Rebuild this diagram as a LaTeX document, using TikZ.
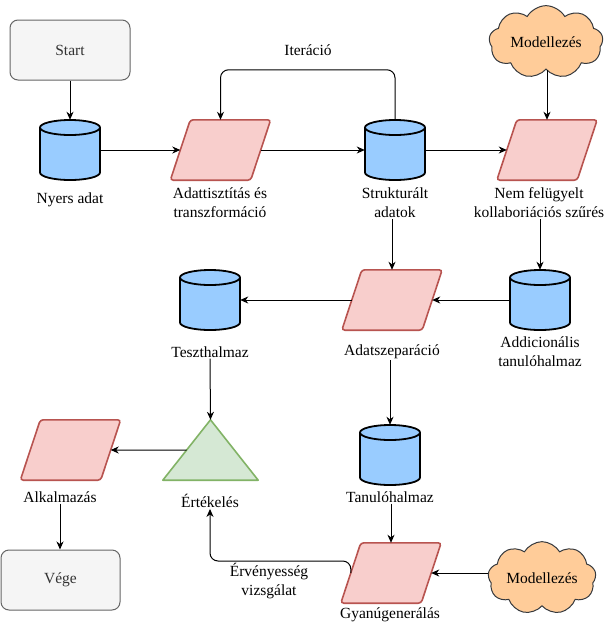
\documentclass[tikz,border=0pt]{standalone}
\usepackage{fontspec}
\setmainfont{Liberation Serif}
\usetikzlibrary{shapes.geometric,shapes.symbols,arrows.meta,calc}
\definecolor{greyfill}{HTML}{F5F5F5}
\definecolor{greyline}{HTML}{666666}
\definecolor{greytext}{HTML}{333333}
\definecolor{cylfill}{HTML}{99CCFF}
\definecolor{parafill}{HTML}{F8CECC}
\definecolor{paraline}{HTML}{B85450}
\definecolor{trifill}{HTML}{D5E8D4}
\definecolor{triline}{HTML}{82B366}
\definecolor{cloudfill}{HTML}{FFCC99}
\definecolor{cloudline}{HTML}{36393D}
\newcommand{\drawcyl}[1]{%
  \filldraw[cylst] ($(#1.center)+(-30pt,22.5pt)$) -- ++(0pt,-45pt)
    arc[start angle=180,end angle=360,x radius=30pt,y radius=7.5pt] -- ++(0pt,45pt)
    arc[start angle=0,end angle=180,x radius=30pt,y radius=7.5pt] -- cycle;
  \draw[cylst] ($(#1.center)+(-30pt,22.5pt)$)
    arc[start angle=180,end angle=360,x radius=30pt,y radius=7.5pt];}
\newcommand{\drawpara}[1]{%
  \filldraw[parast] (#1.south west) -- ($(#1.north west)+(20pt,0pt)$) -- (#1.north east)
    -- ($(#1.south east)+(-20pt,0pt)$) -- cycle;
  \coordinate (#1-l) at ($(#1.west)+(10pt,0pt)$);
  \coordinate (#1-r) at ($(#1.east)+(-10pt,0pt)$);}
\begin{document}
\begin{tikzpicture}[x=1pt,y=-1pt, font=\fontsize{15.5}{19}\selectfont,
  termbox/.style={draw=greyline, fill=greyfill, text=greytext, rounded corners=8pt,
    minimum width=120pt, minimum height=60pt, line width=1pt, inner sep=0},
  cylnode/.style={minimum width=60pt, minimum height=60pt, inner sep=0},
  cylst/.style={draw=black, fill=cylfill, line width=1.8pt, line join=round},
  paranode/.style={minimum width=100pt, minimum height=60pt, inner sep=0},
  parast/.style={draw=paraline, fill=parafill, line width=1.6pt, rounded corners=3pt},
  cloudnode/.style={cloud, cloud puffs=9, cloud puff arc=120, draw=cloudline,
    fill=cloudfill, line width=1pt, inner sep=0, aspect=1.8},
  tri/.style={draw=triline, fill=trifill, line width=1.6pt, line join=round},
  lbl/.style={align=center, inner sep=1pt},
  arr/.style={draw=black, line width=1pt, -{Stealth[length=8pt,width=7pt,inset=2.5pt]}}
]
\useasboundingbox (0,0) rectangle (614,625);

% nodes
\node[termbox] (start) at (70,50) {Start};
\node[cylnode] (nyers) at (70,150) {};
\drawcyl{nyers}
\node[lbl] (nyerslbl) at (70,200) {Nyers adat};
\node[paranode] (adat) at (220.5,150) {};
\drawpara{adat}
\node[lbl] (adatlbl) at (220,203) {Adattisztítás és\\transzformáció};
\node[cylnode] (strukt) at (395,150) {};
\drawcyl{strukt}
\node[lbl] (struktlbl) at (395,203) {Strukturált\\adatok};
\node[lbl] (iterlbl) at (308,50) {Iteráció};
\node[paranode] (nem) at (547,150) {};
\drawpara{nem}
\node[lbl] (nemlbl) at (539,203) {Nem felügyelt\\kollaboriációs szűrés};
\node[cloudnode, minimum width=114pt, minimum height=68pt] (cloudA) at (546,42) {Modellezés};
\node[cylnode] (addi) at (540,300) {};
\drawcyl{addi}
\node[lbl] (addilbl) at (540,352) {Addicionális\\tanulóhalmaz};
\node[paranode] (szep) at (392,300) {};
\drawpara{szep}
\node[lbl] (szeplbl) at (392,352) {Adatszeparáció};
\node[cylnode] (test) at (210,300) {};
\drawcyl{test}
\node[lbl] (testlbl) at (210,352) {Teszthalmaz};
\node[minimum width=95pt, minimum height=60pt, inner sep=0] (ert) at (210.5,450) {};
\filldraw[tri] (ert.north) -- (ert.south east) -- (ert.south west) -- cycle;
\coordinate (ertL) at ($(ert.north)!0.5!(ert.south west)$);
\node[lbl] (ertlbl) at (210,501) {Értékelés};
\node[paranode] (alk) at (70.5,450) {};
\drawpara{alk}
\node[lbl] (alklbl) at (60,497) {Alkalmazás};
\node[termbox, minimum width=119pt] (vege) at (60.5,580) {Vége};
\node[cylnode] (tan) at (390,455) {};
\drawcyl{tan}
\node[lbl] (tanlbl) at (390,497) {Tanulóhalmaz};
\node[paranode] (gyanu) at (391,573) {};
\drawpara{gyanu}
\node[lbl] (gyanulbl) at (390,615) {Gyanúgenerálás};
\node[cloudnode, minimum width=108pt, minimum height=58pt] (cloudB) at (542,578) {Modellezés};
\node[lbl] (ervlbl) at (269,581) {Érvényesség\\vizsgálat};

% connectors
\draw[arr] (start.south) -- (nyers.north);
\draw[arr] (nyers.east) -- (adat-l);
\draw[arr] (adat-r) -- (strukt.west);
\draw[arr, rounded corners=8pt] (strukt.north) -- ++(0pt,50pt) -| (adat.north);
\draw[arr] (strukt.east) -- (nem-l);
\draw[arr] (cloudA.south -| nem.north) -- (nem.north);
\draw[arr] (addi.north |- nemlbl.south) -- (addi.north);
\draw[arr] (addi.west) -- (szep-r);
\draw[arr] (szep.north |- struktlbl.south) -- (szep.north);
\draw[arr] (szep-l) -- (test.east);
\draw[arr] (testlbl.south) -- (ert.north);
\draw[arr] (ertL) -- (alk-r);
\draw[arr] (alklbl.south) -- (vege.north -| alklbl.south);
\draw[arr] (tan.north |- szeplbl.south) -- (tan.north);
\draw[arr] (gyanu.north |- tanlbl.south) -- (gyanu.north);
\draw[arr] (gyanu-r -| cloudB.west) -- (gyanu-r);
\draw[arr, rounded corners=8pt] (gyanu-l) -- ++(0pt,12pt) -| (ertlbl.south);
\end{tikzpicture}
\end{document}
